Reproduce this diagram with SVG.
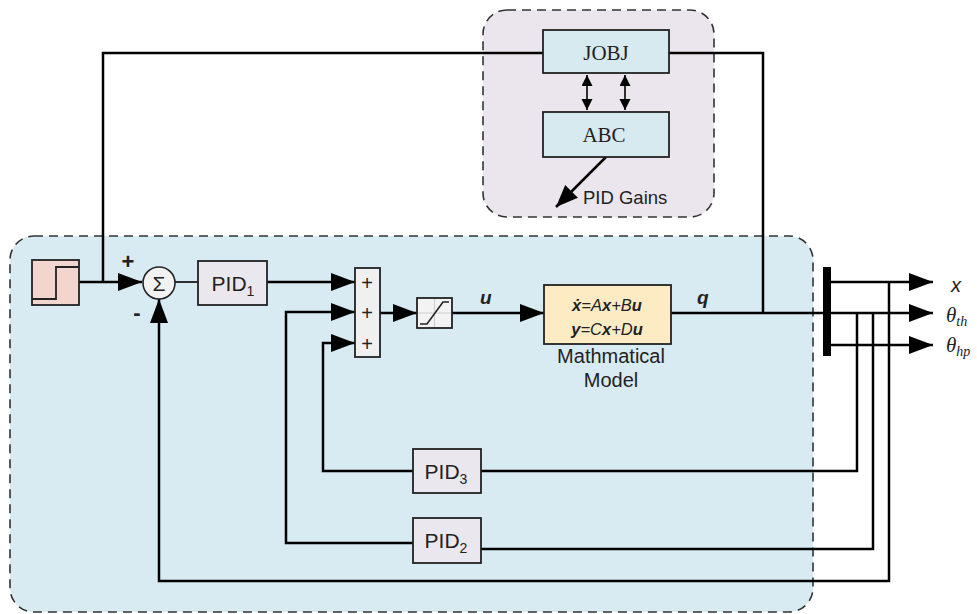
<svg xmlns="http://www.w3.org/2000/svg" width="977" height="614" viewBox="0 0 977 614">
<defs>
<style>
.region{stroke:#333;stroke-width:1.6;stroke-dasharray:9,6}
.blk{stroke:#222;stroke-width:1.8}
.w{fill:none;stroke:#000;stroke-width:2.5}
.thin{fill:none;stroke:#000;stroke-width:1.6}
.sans{font-family:"Liberation Sans",Arial,sans-serif;fill:#222}
.serif{font-family:"Liberation Serif","Times New Roman",serif;fill:#222}
.mid{text-anchor:middle}
</style>
<marker id="ar" markerUnits="userSpaceOnUse" markerWidth="26" markerHeight="20" refX="24" refY="9" orient="auto"><path d="M0,0 L24,9 L0,18 z" fill="#000"/></marker>
<marker id="sm" markerUnits="userSpaceOnUse" markerWidth="14" markerHeight="12" refX="11" refY="5.5" orient="auto-start-reverse"><path d="M0,0 L11,5.5 L0,11 z" fill="#000"/></marker>
<marker id="pg" markerUnits="userSpaceOnUse" markerWidth="24" markerHeight="20" refX="22" refY="9" orient="auto"><path d="M0,0 L22,9 L0,18 z" fill="#000"/></marker>
</defs>
<rect width="977" height="614" fill="#fff"/>

<g id="optimizer-region"><rect class="region" x="483" y="10" width="231" height="207" rx="24" fill="#ebe6ee"/></g>
<g id="plant-region"><rect class="region" x="10" y="236" width="803" height="376" rx="24" fill="#d8ebf2"/></g>

<g id="connectors">
<polyline class="w" points="103,282 103,53 543,53"/>
<polyline class="w" points="669,53 763,53 763,313"/>
<line class="thin" x1="587" y1="75" x2="587" y2="110" marker-start="url(#sm)" marker-end="url(#sm)"/>
<line class="thin" x1="625" y1="75" x2="625" y2="110" marker-start="url(#sm)" marker-end="url(#sm)"/>
<line class="w" x1="606" y1="157" x2="556" y2="207" marker-end="url(#pg)"/>
<line class="w" x1="79" y1="282" x2="142" y2="282" marker-end="url(#ar)"/>
<line class="thin" x1="175" y1="282" x2="198" y2="282"/>
<line class="w" x1="267" y1="282" x2="355" y2="282" marker-end="url(#ar)"/>
<line class="w" x1="380" y1="313" x2="417" y2="313" marker-end="url(#ar)"/>
<line class="w" x1="452" y1="313" x2="544" y2="313" marker-end="url(#ar)"/>
<line class="w" x1="671" y1="313" x2="823" y2="313"/>
<line class="w" x1="831" y1="282" x2="933" y2="282" marker-end="url(#ar)"/>
<line class="w" x1="831" y1="313" x2="933" y2="313" marker-end="url(#ar)"/>
<line class="w" x1="831" y1="345" x2="933" y2="345" marker-end="url(#ar)"/>
<polyline class="w" points="857,313 857,471 481,471"/>
<polyline class="w" points="413,471 323,471 323,343 355,343" marker-end="url(#ar)"/>
<polyline class="w" points="873,313 873,549 481,549"/>
<polyline class="w" points="413,543 286,543 286,312 355,312" marker-end="url(#ar)"/>
<polyline class="w" points="889,282 889,581 159,581 159,299" marker-end="url(#ar)"/>
</g>

<g id="jobj"><rect class="blk" x="543" y="30" width="126" height="43" fill="#d6eaf0"/><text class="serif mid" x="606" y="60" font-size="21">JOBJ</text></g>
<g id="abc"><rect class="blk" x="543" y="112" width="126" height="45" fill="#d6eaf0"/><text class="serif mid" x="604" y="142" font-size="21">ABC</text></g>
<g id="pid-gains-label"><text class="sans" x="583" y="204" font-size="18.5">PID Gains</text></g>

<g id="step"><rect class="blk" x="32" y="260" width="47" height="45" fill="#f3d5d0"/><polyline fill="none" stroke="#222" stroke-width="1.8" points="32,299 56,299 56,267 79,267"/></g>

<g id="sum"><circle cx="159" cy="283" r="16" fill="#f2f2f2" stroke="#222" stroke-width="1.6"/><text class="sans mid" x="159" y="291" font-size="21">Σ</text>
<text class="sans mid" x="128" y="269" font-size="22" font-weight="bold">+</text>
<text class="sans mid" x="137" y="320" font-size="22" font-weight="bold">-</text></g>

<g id="pid1"><rect class="blk" x="198" y="261" width="69" height="44" fill="#ebe7ef"/><text class="sans mid" x="233" y="291" font-size="21">PID<tspan font-size="14" dy="5">1</tspan></text></g>

<g id="adder"><rect class="blk" x="355" y="268" width="25" height="89" fill="#f0f0f0"/>
<text class="sans mid" x="367" y="290" font-size="20">+</text>
<text class="sans mid" x="367" y="320" font-size="20">+</text>
<text class="sans mid" x="367" y="351" font-size="20">+</text></g>

<g id="saturation"><rect class="blk" x="417" y="298" width="35" height="30" fill="#f3f3f3"/>
<line x1="434.5" y1="299" x2="434.5" y2="327" stroke="#ccc" stroke-width="1"/><line x1="418" y1="313" x2="451" y2="313" stroke="#ccc" stroke-width="1"/>
<polyline fill="none" stroke="#222" stroke-width="1.6" points="420,324 427,324 443,302 449,302"/></g>

<g id="u-label"><text class="sans" x="480" y="304" font-size="19" font-weight="bold" font-style="italic">u</text></g>

<g id="model"><rect class="blk" x="544" y="285" width="127" height="59" fill="#fdebc3"/>
<text class="sans mid" x="607" y="311" font-size="16.5" font-style="italic"><tspan font-weight="bold">ẋ</tspan>=A<tspan font-weight="bold">x</tspan>+B<tspan font-weight="bold">u</tspan></text>
<text class="sans mid" x="607" y="335" font-size="16.5" font-style="italic"><tspan font-weight="bold">y</tspan>=C<tspan font-weight="bold">x</tspan>+D<tspan font-weight="bold">u</tspan></text>
<text class="sans mid" x="611" y="363" font-size="20" fill="#333">Mathmatical</text>
<text class="sans mid" x="611" y="387" font-size="20" fill="#333">Model</text></g>

<g id="q-label"><text class="sans" x="697" y="304" font-size="19" font-weight="bold" font-style="italic">q</text></g>

<g id="demux"><rect x="823" y="267" width="8" height="89" fill="#000"/></g>

<g id="outputs">
<text class="sans" x="951" y="292" font-size="20" font-style="italic">x</text>
<text class="serif" x="946" y="322" font-size="21" font-style="italic">θ<tspan font-size="14" dy="4">th</tspan></text>
<text class="serif" x="946" y="352" font-size="21" font-style="italic">θ<tspan font-size="14" dy="4">hp</tspan></text>
</g>

<g id="pid3"><rect class="blk" x="413" y="449" width="68" height="44" fill="#ebe7ef"/><text class="sans mid" x="446" y="479" font-size="21">PID<tspan font-size="14" dy="5">3</tspan></text></g>
<g id="pid2"><rect class="blk" x="413" y="518" width="68" height="45" fill="#ebe7ef"/><text class="sans mid" x="446" y="548" font-size="21">PID<tspan font-size="14" dy="5">2</tspan></text></g>
</svg>
